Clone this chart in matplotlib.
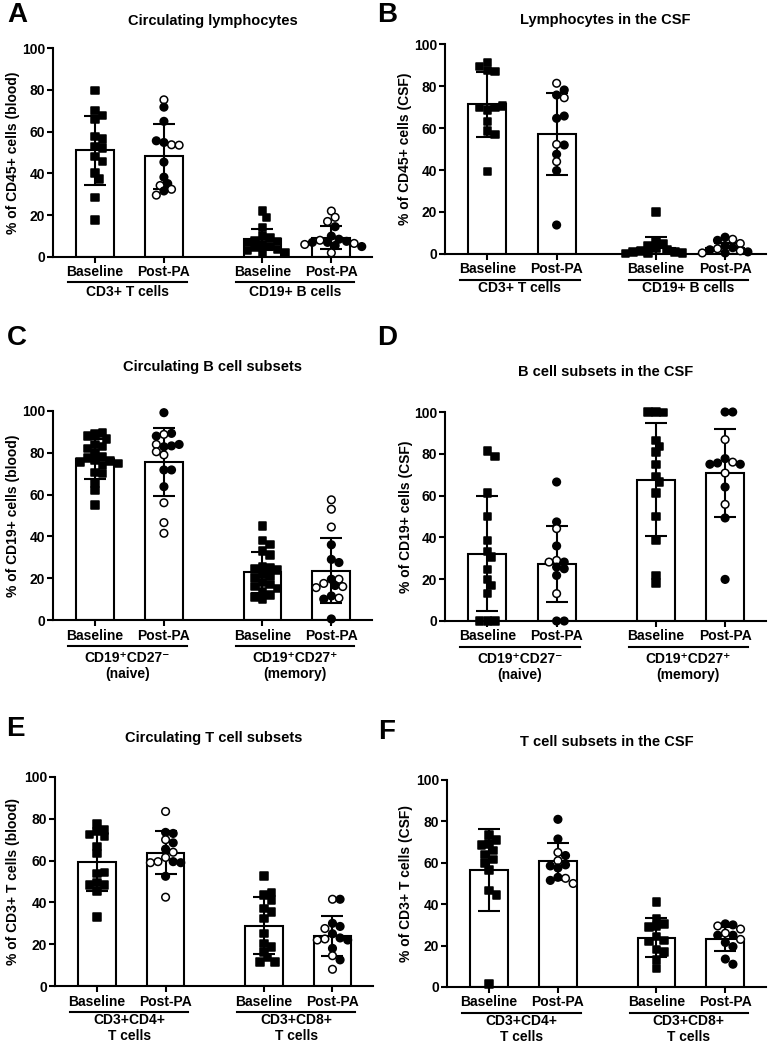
import matplotlib
matplotlib.use("Agg")
import matplotlib.pyplot as plt
import matplotlib.transforms as mtransforms
import numpy as np

plt.rcParams['font.family'] = ['Liberation Sans', 'DejaVu Sans']
plt.rcParams['font.weight'] = 'bold'
plt.rcParams['axes.labelweight'] = 'bold'

W, H, DPI = 773, 1050, 100

condition_labels = ["Baseline", "Post-PA"]
y_ticks = [0, 20, 40, 60, 80, 100]

# ---------------- Panel A: Circulating lymphocytes ----------------
A_title = "Circulating lymphocytes"
A_ylabel = "% of CD45+ cells (blood)"
A_groups = [["CD3+ T cells"], ["CD19+ B cells"]]
A_cd3_base = [79.7, 70.0, 67.7, 66.1, 57.7, 56.4, 52.9, 52.1, 48.1, 45.7, 40.1, 37.4, 28.4, 17.7]
A_cd3_post = [75.2, 71.7, 64.9, 54.8, 53.7, 55.6, 53.5, 45.4, 38.2, 35.1, 34.2, 32.4, 31.6, 29.6]
A_cd3_post_open = [1, 0, 0, 0, 1, 0, 1, 0, 0, 0, 1, 1, 0, 1]
A_cd19_base = [22, 19, 14, 10, 9, 8, 7.5, 7, 6, 5, 4.5, 3.5, 3, 2.5, 2]
A_cd19_post = [22, 19, 17, 14.5, 10, 8.5, 7, 8, 7.5, 7, 6.5, 6, 5.5, 5, 2]
A_cd19_post_open = [1, 1, 1, 0, 0, 0, 0, 1, 0, 0, 1, 1, 0, 0, 1]
A_means = [51.0, 48.1, 8.5, 9.2]
A_sds = [16.4, 15.5, 5.0, 5.5]

# ---------------- Panel B: Lymphocytes in the CSF ----------------
B_title = "Lymphocytes in the CSF"
B_ylabel = "% of CD45+ cells (CSF)"
B_groups = [["CD3+ T cells"], ["CD19+ B cells"]]
B_cd3_base = [91.1, 87.3, 86.8, 89.2, 68.6, 69.8, 69.8, 70.5, 63.0, 58.6, 57.0, 39.2]
B_cd3_post = [81.3, 75.7, 74.4, 78.1, 64.6, 65.7, 52.2, 51.9, 47.5, 44.0, 39.7, 13.8]
B_cd3_post_open = [1, 0, 1, 0, 0, 0, 1, 0, 0, 1, 0, 0]
B_cd19_base = [20, 6, 5, 4, 2.5, 2, 1.5, 1, 1, 0.5, 0.5, 0.3]
B_cd19_post = [8, 7, 6.5, 5, 4, 3, 2.5, 2, 1.5, 1, 0.5, 0.5]
B_cd19_post_open = [0, 1, 0, 1, 0, 0, 1, 0, 1, 0, 0, 1]
B_means = [71.2, 57.0, 3.0, 2.8]
B_sds = [15.6, 19.5, 5.3, 2.6]

# ---------------- Panel C: Circulating B cell subsets ----------------
C_title = "Circulating B cell subsets"
C_ylabel = "% of CD19+ cells (blood)"
C_groups = [["CD19\u207aCD27\u207b", "(naive)"], ["CD19\u207aCD27\u207a", "(memory)"]]
C_naive_base = [89, 89.5, 88, 86.5, 84, 83, 82, 80, 78, 77.5, 76.5, 76, 75.5, 75, 74, 70.5, 70, 65.5, 62, 55]
C_naive_post = [99.2, 88.8, 89.3, 88.0, 82.9, 83.3, 84.0, 84.0, 80.5, 79.0, 71.8, 71.8, 63.8, 56.1, 46.6, 41.5]
C_naive_post_open = [0, 1, 0, 0, 0, 0, 1, 0, 1, 1, 0, 0, 0, 1, 1, 1]
C_mem_base = [45, 38, 36, 33, 31, 25.5, 25, 24.5, 24, 22, 21, 20, 18, 17, 16, 15, 13.5, 12, 11, 10]
C_mem_post = [57.5, 53, 44.5, 36, 29, 27.5, 19.5, 19.5, 17.5, 16.5, 16, 15.5, 11.5, 10.5, 10, 0.5]
C_mem_post_open = [1, 1, 1, 0, 0, 0, 0, 1, 1, 0, 1, 1, 0, 1, 0, 0]
C_means = [76.9, 75.4, 22.8, 23.6]
C_sds = [9.6, 16.3, 9.9, 15.7]

# ---------------- Panel D: B cell subsets in the CSF ----------------
D_title = "B cell subsets in the CSF"
D_ylabel = "% of CD19+ cells (CSF)"
D_groups = [["CD19\u207aCD27\u207b", "(naive)"], ["CD19\u207aCD27\u207a", "(memory)"]]
D_naive_base = [81.3, 78.8, 61.2, 50.1, 38.6, 33.3, 30.6, 24.6, 19.8, 17.1, 13.1, 0, 0, 0]
D_naive_post = [66.5, 47.4, 44.2, 35.9, 29.0, 28.2, 28.2, 25.8, 25.0, 21.8, 13.1, 0, 0]
D_naive_post_open = [0, 0, 1, 0, 1, 0, 1, 0, 0, 0, 1, 0, 0]
D_mem_base = [100, 99.7, 100, 86.4, 83.6, 80.9, 74.8, 69.2, 66.5, 61.2, 50.1, 38.6, 21.8, 18.2]
D_mem_post = [100, 100, 86.8, 77.7, 76.0, 75.6, 75.0, 75.0, 70.8, 64.1, 55.8, 49.3, 19.9]
D_mem_post_open = [0, 0, 1, 0, 1, 0, 0, 0, 1, 0, 1, 0, 0]
D_means = [32.2, 27.4, 67.7, 70.9]
D_sds = [27.4, 18.2, 27.2, 21.1]

# ---------------- Panel E: Circulating T cell subsets ----------------
E_title = "Circulating T cell subsets"
E_ylabel = "% of CD3+ T cells (blood)"
E_groups = [["CD3+CD4+", "T cells"], ["CD3+CD8+", "T cells"]]
E_cd4_base = [77.6, 73.9, 74.7, 71.5, 72.6, 66.7, 63.5, 53.9, 54.2, 49.4, 48.3, 48.3, 45.4, 33.1]
E_cd4_post = [83.5, 73.5, 73.0, 70.0, 68.5, 65.5, 64.0, 61.5, 59.5, 59.5, 59.0, 59.0, 52.5, 42.5]
E_cd4_post_open = [1, 0, 0, 1, 0, 0, 1, 1, 0, 1, 0, 1, 0, 1]
E_cd8_base = [52.6, 43.5, 44.8, 41.1, 37.1, 35.5, 32.3, 25.1, 20.3, 16.3, 18.7, 13.6, 11.5, 11.5]
E_cd8_post = [41.5, 41.5, 30, 28.5, 27.5, 25, 23, 22.5, 22, 22, 18, 14.5, 12.5, 8]
E_cd8_post_open = [1, 0, 0, 0, 1, 0, 0, 1, 0, 1, 0, 1, 0, 1]
E_means = [59.4, 63.8, 28.8, 23.8]
E_sds = [14.0, 10.3, 13.7, 9.6]

# ---------------- Panel F: T cell subsets in the CSF ----------------
F_title = "T cell subsets in the CSF"
F_ylabel = "% of CD3+ T cells (CSF)"
F_groups = [["CD3+CD4+", "T cells"], ["CD3+CD8+", "T cells"]]
F_cd4_base = [73.5, 71, 69, 68.5, 66, 64, 61.5, 60, 56.5, 46.5, 44.5, 1.5]
F_cd4_post = [81, 71.5, 65, 63.5, 61, 59, 58.5, 57.5, 53, 52.5, 51.5, 50]
F_cd4_post_open = [0, 0, 1, 0, 1, 0, 0, 0, 0, 1, 0, 1]
F_cd8_base = [41, 33, 30.5, 29.5, 29, 24.5, 22.5, 22, 18, 17, 13, 9]
F_cd8_post = [30.5, 30, 29.5, 28, 26, 25, 25, 23, 21.5, 19.5, 13.5, 11]
F_cd8_post_open = [0, 0, 1, 1, 1, 0, 0, 1, 0, 0, 0, 0]
F_means = [56.5, 60.8, 23.9, 23.2]
F_sds = [19.7, 8.9, 9.3, 6.0]

# ------------------------------------------------------------------
positions = [0.0, 1.0, 2.43, 3.43]
XLIM = (-0.61, 4.02)
BAR_W = 0.55
MARK_PX = 7.6

fig = plt.figure(figsize=(W / DPI, H / DPI), dpi=DPI)
fig.patch.set_facecolor('white')


def fx(x):
    return x / W


def fy(y):
    return 1 - y / H


def swarm(vals, ppx, ppy, d):
    offs = np.zeros(len(vals))
    placed = []
    step = d / 2.0
    cands = [0.0]
    for k in range(1, 14):
        cands += [k * step, -k * step]
    for i, v in enumerate(vals):
        yp = v * ppy
        for c in cands:
            ok = True
            for (px, py) in placed:
                if (c - px) ** 2 + (yp - py) ** 2 < (d * 0.86) ** 2:
                    ok = False
                    break
            if ok:
                break
        placed.append((c, yp))
        offs[i] = c / ppx
    return offs


def draw_panel(rect, letter, letter_xy, title, title_y, ylabel, ylabel_x,
               groups, group_dy, cols, means, sds):
    l, t, r, b = rect
    ax = fig.add_axes([fx(l), fy(b), fx(r - l), (b - t) / H])
    ax.set_xlim(*XLIM)
    ax.set_ylim(0, 100)
    ppx = (r - l) / (XLIM[1] - XLIM[0])
    ppy = (b - t) / 100.0
    for j, (vals, opn, mk) in enumerate(cols):
        x0 = positions[j]
        ax.bar(x0, means[j], width=BAR_W, color='white', edgecolor='black',
               linewidth=1.5, zorder=2)
        offs = swarm(vals, ppx, ppy, MARK_PX)
        fcs = ['white' if o else 'black' for o in opn]
        ax.scatter(x0 + offs, vals, marker=mk, s=30 if mk == 'o' else 29,
                   c=fcs, edgecolors='black', linewidths=1.1, zorder=4,
                   clip_on=False)
        ax.errorbar(x0, means[j], yerr=sds[j], fmt='none', ecolor='black',
                    elinewidth=1.5, capsize=7.8, capthick=1.5, zorder=3)
    for s in ['top', 'right']:
        ax.spines[s].set_visible(False)
    for s in ['left', 'bottom']:
        ax.spines[s].set_linewidth(1.5)
    ax.set_yticks(y_ticks)
    ax.set_yticklabels([str(v) for v in y_ticks], fontsize=10, fontweight='bold')
    ax.set_xticks(positions)
    ax.set_xticklabels([])
    ax.tick_params(axis='both', direction='out', length=4, width=1.5)
    ax.tick_params(axis='y', pad=1.5)

    blend = mtransforms.blended_transform_factory(ax.transData, fig.transFigure)
    for j, x0 in enumerate(positions):
        ax.text(x0, fy(b + 15.5), condition_labels[j % 2], transform=blend,
                ha='center', va='center', fontsize=10, fontweight='bold')
    for g in range(2):
        xa, xb = positions[2 * g], positions[2 * g + 1]
        ax.plot([xa - 0.39, xb + 0.33], [fy(b + 25.5), fy(b + 25.5)],
                transform=blend, color='black', lw=1.5, clip_on=False)
        xc = (xa + xb) / 2.0 - 0.03
        for k, line in enumerate(groups[g]):
            ax.text(xc, fy(b + group_dy + 16 * k), line, transform=blend,
                    ha='center', va='center', fontsize=10, fontweight='bold')

    fig.text(fx((l + r) / 2.0), fy(title_y), title, ha='center', va='center',
             fontsize=10.5, fontweight='bold')
    fig.text(fx(letter_xy[0]), fy(letter_xy[1]), letter, ha='center', va='center',
             fontsize=20, fontweight='bold')
    fig.text(fx(ylabel_x), fy((t + b) / 2.0), ylabel, rotation=90,
             ha='center', va='center', fontsize=10, fontweight='bold')
    return ax


SQ = 's'
CI = 'o'
zeros = lambda n: [0] * n

draw_panel((53, 48, 372, 257), "A", (17, 15), A_title, 21, A_ylabel, 13, A_groups, 34.5,
           [(A_cd3_base, zeros(len(A_cd3_base)), SQ), (A_cd3_post, A_cd3_post_open, CI),
            (A_cd19_base, zeros(len(A_cd19_base)), SQ), (A_cd19_post, A_cd19_post_open, CI)],
           A_means, A_sds)
draw_panel((445, 44, 766, 254), "B", (387, 15), B_title, 20, B_ylabel, 405, B_groups, 34.5,
           [(B_cd3_base, zeros(len(B_cd3_base)), SQ), (B_cd3_post, B_cd3_post_open, CI),
            (B_cd19_base, zeros(len(B_cd19_base)), SQ), (B_cd19_post, B_cd19_post_open, CI)],
           B_means, B_sds)
draw_panel((53, 411, 372, 620), "C", (17, 338), C_title, 367, C_ylabel, 13, C_groups, 38,
           [(C_naive_base, zeros(len(C_naive_base)), SQ), (C_naive_post, C_naive_post_open, CI),
            (C_mem_base, zeros(len(C_mem_base)), SQ), (C_mem_post, C_mem_post_open, CI)],
           C_means, C_sds)
draw_panel((445, 412, 766, 621), "D", (387, 338), D_title, 372, D_ylabel, 406, D_groups, 38,
           [(D_naive_base, zeros(len(D_naive_base)), SQ), (D_naive_post, D_naive_post_open, CI),
            (D_mem_base, zeros(len(D_mem_base)), SQ), (D_mem_post, D_mem_post_open, CI)],
           D_means, D_sds)
draw_panel((55, 777, 373, 986), "E", (15, 729), E_title, 738, E_ylabel, 13, E_groups, 34,
           [(E_cd4_base, zeros(len(E_cd4_base)), SQ), (E_cd4_post, E_cd4_post_open, CI),
            (E_cd8_base, zeros(len(E_cd8_base)), SQ), (E_cd8_post, E_cd8_post_open, CI)],
           E_means, E_sds)
draw_panel((447, 780, 766, 987), "F", (387, 732), F_title, 742, F_ylabel, 406, F_groups, 34,
           [(F_cd4_base, zeros(len(F_cd4_base)), SQ), (F_cd4_post, F_cd4_post_open, CI),
            (F_cd8_base, zeros(len(F_cd8_base)), SQ), (F_cd8_post, F_cd8_post_open, CI)],
           F_means, F_sds)

fig.savefig("out.png", dpi=DPI, facecolor='white')
